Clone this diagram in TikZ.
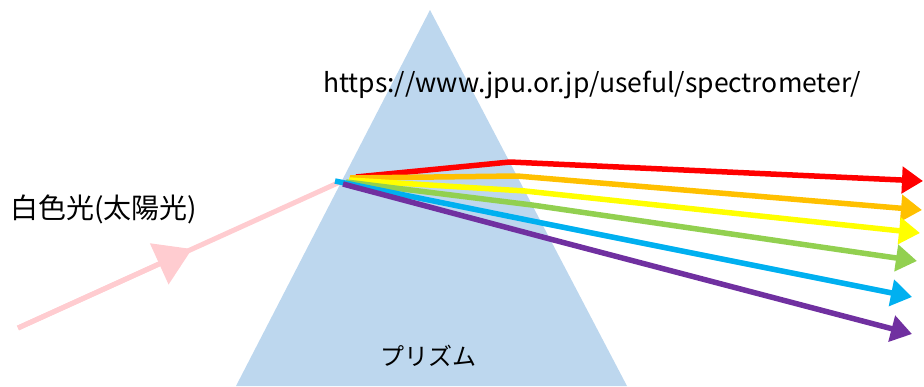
\documentclass[tikz,border=0pt]{standalone}
\usepackage{fontspec}
\newfontfamily\jpfont{Noto Sans CJK JP}
\usetikzlibrary{arrows.meta}

\definecolor{prismblue}{RGB}{189,215,238}
\definecolor{sunpink}{RGB}{255,204,208}
\definecolor{rayred}{RGB}{255,0,0}
\definecolor{rayorange}{RGB}{255,192,0}
\definecolor{rayyellow}{RGB}{255,255,0}
\definecolor{raygreen}{RGB}{146,208,80}
\definecolor{rayblue}{RGB}{0,176,240}
\definecolor{raypurple}{RGB}{112,48,160}

\tikzset{
  ray/.style={line width=5.5pt,line join=round,-{Triangle[length=21pt,width=26pt]}},
  sunray/.style={line width=5pt,sunpink},
  label/.style={font=\jpfont\fontsize{#1}{#1}\selectfont,inner sep=0pt}
}

\begin{document}
\begin{tikzpicture}[x=1pt,y=-1pt]
  \useasboundingbox (0,0) rectangle (924,386);
  % prism
  \fill[prismblue] (430,10) -- (236,386) -- (627,386) -- cycle;

  % white light coming in
  \coordinate (sun) at (18,328);
  \coordinate (sunmid) at (192,249);
  \coordinate (entry) at (340,182);
  \draw[sunray] (sun) -- (entry);
  \draw[sunray,-{Triangle[length=36pt,width=44pt]}] (sun) -- (sunmid);

  % where each colour starts, leaves the prism and ends
  \coordinate (rayred0) at (356,177);    \coordinate (rayred1) at (510,162);    \coordinate (rayred2) at (923,181);
  \coordinate (rayorange0) at (350,178); \coordinate (rayorange1) at (517,176); \coordinate (rayorange2) at (922,210);
  \coordinate (rayyellow0) at (349,180); \coordinate (rayyellow1) at (525,191); \coordinate (rayyellow2) at (920,233);
  \coordinate (raygreen0) at (346,182);  \coordinate (raygreen1) at (532,205);  \coordinate (raygreen2) at (917,261);
  \coordinate (rayblue0) at (335,181);   \coordinate (rayblue1) at (542,223);   \coordinate (rayblue2) at (912,297);
  \coordinate (raypurple0) at (343,184); \coordinate (raypurple1) at (550,239); \coordinate (raypurple2) at (912,334);
  \foreach \col in {rayred,rayorange,rayyellow,raygreen,rayblue,raypurple}
    \draw[ray,\col] (\col0) -- (\col1) -- (\col2);

  % texts
  \node[label=26.5,anchor=base] (url) at (592,92) {https://www.jpu.or.jp/useful/spectrometer/};
  \node[label=28,anchor=west] (white) at (10,209) {白色光(太陽光)};
  \node[label=24,anchor=center] (prism) at (428,356) {プリズム};
\end{tikzpicture}
\end{document}
